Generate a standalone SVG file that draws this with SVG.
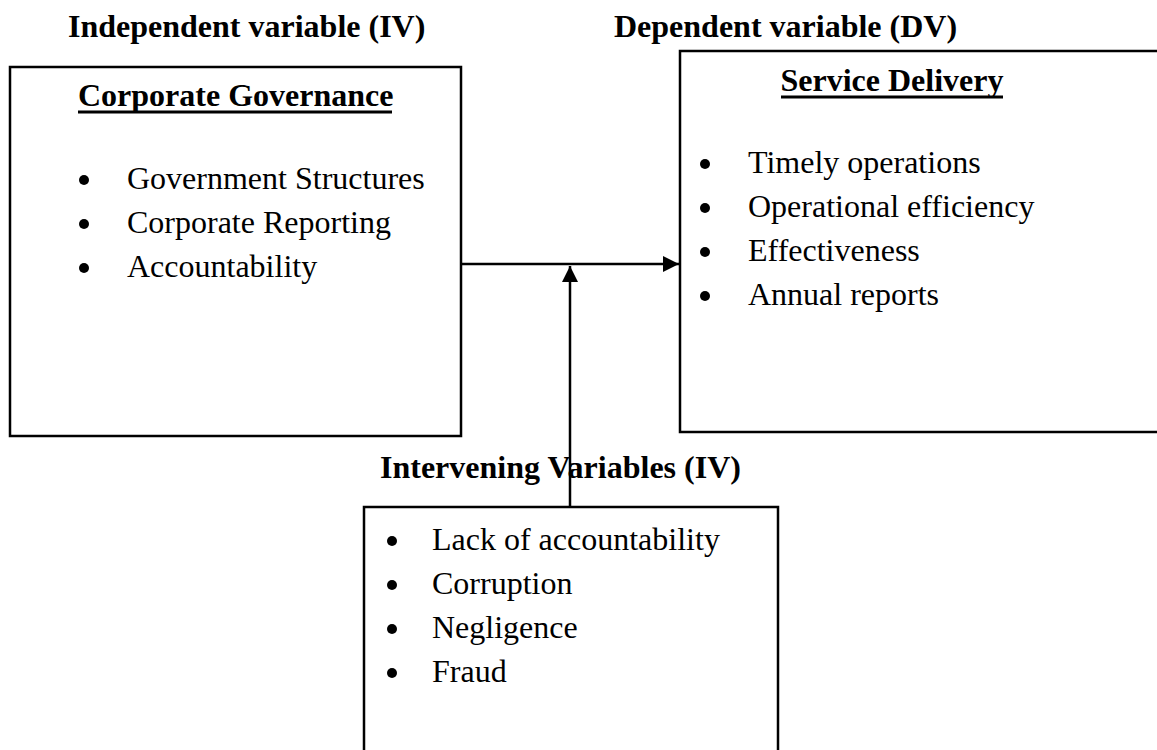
<svg xmlns="http://www.w3.org/2000/svg" width="1157" height="750" viewBox="0 0 1157 750">
<defs>
<style>
.t{font-family:"Liberation Serif","Times New Roman",serif;font-size:32px;fill:#000}
.b{font-weight:bold}
.box{fill:#fff;stroke:#000;stroke-width:2.5}
.ul{stroke:#000;stroke-width:3}
.ln{stroke:#000;stroke-width:2.5;fill:none}
.dot{fill:#000}
</style>
<marker id="ah" viewBox="0 0 10 10" refX="10" refY="5" markerWidth="6.4" markerHeight="6.4" markerUnits="strokeWidth" orient="auto">
<path d="M0,0 L10,5 L0,10 Z" fill="#000"/>
</marker>
</defs>
<rect width="1157" height="750" fill="#fff"/>
<text class="t b" x="68" y="37">Independent variable (IV)</text>
<text class="t b" x="614" y="37">Dependent variable (DV)</text>
<g id="iv">
<rect class="box" x="10" y="67" width="451" height="369"/>
<text class="t b" x="78" y="106">Corporate Governance</text>
<line class="ul" x1="78" y1="112" x2="392" y2="112"/>
<circle class="dot" cx="84" cy="180" r="5"/><text class="t" x="127" y="189">Government Structures</text>
<circle class="dot" cx="84" cy="224" r="5"/><text class="t" x="127" y="233">Corporate Reporting</text>
<circle class="dot" cx="84" cy="268" r="5"/><text class="t" x="127" y="277">Accountability</text>
</g>
<g id="dv">
<rect class="box" x="680" y="51" width="490" height="381"/>
<text class="t b" x="892" y="91" text-anchor="middle">Service Delivery</text>
<line class="ul" x1="781" y1="97" x2="1003" y2="97"/>
<circle class="dot" cx="705" cy="164" r="5"/><text class="t" x="748" y="173">Timely operations</text>
<circle class="dot" cx="705" cy="208" r="5"/><text class="t" x="748" y="217">Operational efficiency</text>
<circle class="dot" cx="705" cy="252" r="5"/><text class="t" x="748" y="261">Effectiveness</text>
<circle class="dot" cx="705" cy="296" r="5"/><text class="t" x="748" y="305">Annual reports</text>
</g>
<g id="intervening">
<rect class="box" x="364" y="507" width="414" height="260"/>
<circle class="dot" cx="392" cy="541" r="5"/><text class="t" x="432" y="550">Lack of accountability</text>
<circle class="dot" cx="392" cy="585" r="5"/><text class="t" x="432" y="594">Corruption</text>
<circle class="dot" cx="392" cy="629" r="5"/><text class="t" x="432" y="638">Negligence</text>
<circle class="dot" cx="392" cy="673" r="5"/><text class="t" x="432" y="682">Fraud</text>
</g>
<text class="t b" x="380" y="478">Intervening Variables (IV)</text>
<g id="connectors">
<line class="ln" x1="461" y1="264" x2="679" y2="264" marker-end="url(#ah)"/>
<line class="ln" x1="570" y1="507" x2="570" y2="266" marker-end="url(#ah)"/>
</g>
</svg>
